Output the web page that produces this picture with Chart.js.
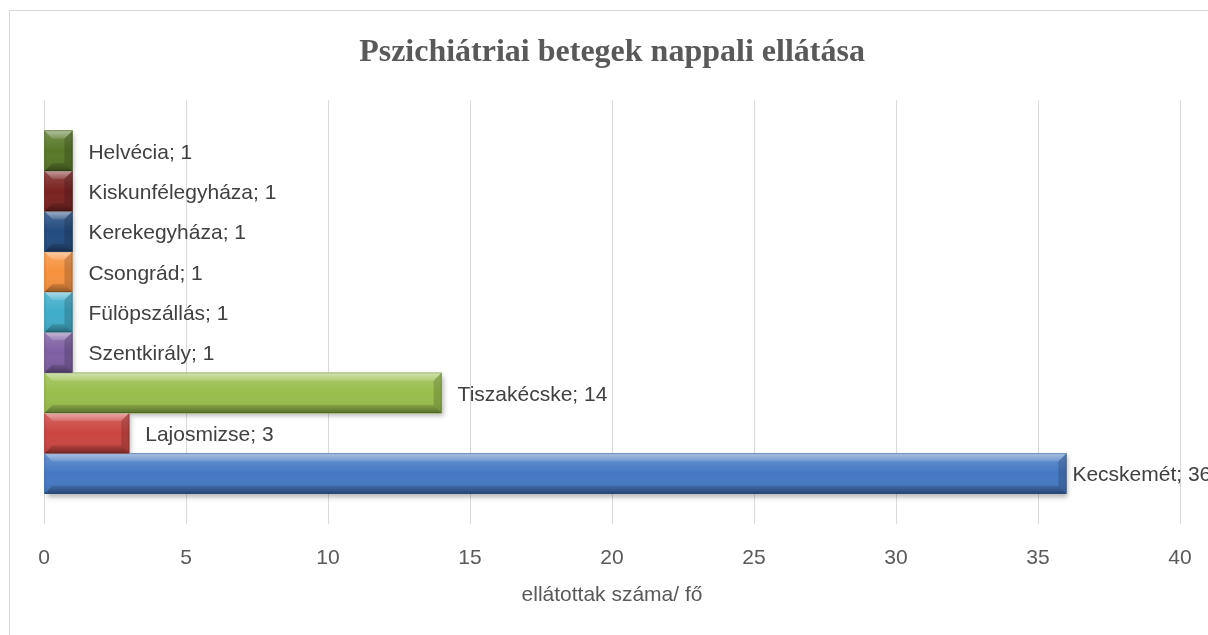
<!DOCTYPE html>
<html>

<head>
  <title>Pszichiátriai betegek nappali ellátása</title>
  <script src="https://cdn.jsdelivr.net/npm/chart.js"></script>
  <style>
    body { margin: 0; background: #fff; }
    #wrap { width: 1208px; height: 635px; }
  </style>
</head>

<body>
  <div id="wrap"><canvas id="myChart"></canvas></div>
  <script>
    // bottom -> top
    const categories = ['Kecskemét', 'Lajosmizse', 'Tiszakécske', 'Szentkirály', 'Fülöpszállás', 'Csongrád', 'Kerekegyháza', 'Kiskunfélegyháza', 'Helvécia'];
    const values = [36, 3, 14, 1, 1, 1, 1, 1, 1];
    const barColors = ['#4579C4', '#CC4541', '#99BE4C', '#7E5FA3', '#3FADCA', '#F7923E', '#234C80', '#7A2320', '#587828'];
    const xTicks = { min: 0, max: 40, step: 5 };
    const titleText = 'Pszichiátriai betegek nappali ellátása';
    const axisTitle = 'ellátottak száma/ fő';

    const labelFont = '21px "Liberation Sans"';

    // frame round the chart (only top and left edge are inside the picture)
    const framePlugin = {
      id: 'frame',
      beforeDraw(chart) {
        const ctx = chart.ctx;
        ctx.save();
        ctx.strokeStyle = '#d9d9d9';
        ctx.lineWidth = 1;
        ctx.strokeRect(9.5, 10.5, 1400, 800);
        ctx.restore();
      }
    };

    // soft shadow under bars + bevel look on top of them
    const bevelPlugin = {
      id: 'bevel',
      beforeDatasetsDraw(chart) {
        const ctx = chart.ctx;
        const meta = chart.getDatasetMeta(0);
        ctx.save();
        ctx.shadowColor = 'rgba(0,0,0,0.3)';
        ctx.shadowBlur = 5;
        ctx.shadowOffsetX = 2;
        ctx.shadowOffsetY = 3;
        meta.data.forEach((bar, i) => {
          const h = bar.height;
          ctx.fillStyle = barColors[i];
          ctx.fillRect(bar.base, bar.y - h / 2, bar.x - bar.base, h);
        });
        ctx.restore();
      },
      afterDatasetsDraw(chart) {
        const ctx = chart.ctx;
        const meta = chart.getDatasetMeta(0);
        const b = 8;
        ctx.save();
        meta.data.forEach((bar) => {
          const L = bar.base, R = bar.x, T = bar.y - bar.height / 2, B = bar.y + bar.height / 2;
          const poly = (pts, fill) => {
            ctx.beginPath();
            ctx.moveTo(pts[0][0], pts[0][1]);
            pts.slice(1).forEach(p => ctx.lineTo(p[0], p[1]));
            ctx.closePath();
            ctx.fillStyle = fill;
            ctx.fill();
          };
          const g = ctx.createLinearGradient(0, T, 0, B);
          g.addColorStop(0, 'rgba(255,255,255,0.18)');
          g.addColorStop(0.5, 'rgba(255,255,255,0.0)');
          g.addColorStop(1, 'rgba(0,0,0,0.10)');
          ctx.fillStyle = g;
          ctx.fillRect(L, T, R - L, B - T);
          const gt = ctx.createLinearGradient(0, T, 0, T + b);
          gt.addColorStop(0, 'rgba(255,255,255,0.45)');
          gt.addColorStop(1, 'rgba(255,255,255,0.12)');
          poly([[L, T], [R, T], [R - b, T + b], [L + b, T + b]], gt);
          const gb = ctx.createLinearGradient(0, B - b, 0, B);
          gb.addColorStop(0, 'rgba(0,0,0,0.12)');
          gb.addColorStop(1, 'rgba(0,0,0,0.35)');
          poly([[L, B], [R, B], [R - b, B - b], [L + b, B - b]], gb);
          poly([[R, T], [R - b, T + b], [R - b, B - b], [R, B]], 'rgba(0,0,0,0.16)');
          ctx.strokeStyle = 'rgba(0,0,0,0.12)';
          ctx.lineWidth = 1;
          ctx.strokeRect(L + 0.5, T + 0.5, R - L - 1, B - T - 1);
        });
        ctx.restore();
      }
    };

    // "Name; value" labels next to each bar
    const labelPlugin = {
      id: 'barLabels',
      afterDatasetsDraw(chart) {
        const ctx = chart.ctx;
        const meta = chart.getDatasetMeta(0);
        ctx.save();
        ctx.font = labelFont;
        ctx.fillStyle = '#404040';
        ctx.textBaseline = 'middle';
        meta.data.forEach((bar, i) => {
          const text = categories[i] + '; ' + values[i];
          let x = bar.x + 16;
          if (x + ctx.measureText(text).width > chart.width) x = bar.x + 6;
          ctx.fillText(text, x, bar.y + 2);
        });
        ctx.restore();
      }
    };

    const ctx = document.getElementById('myChart').getContext('2d');
    const chart = new Chart(ctx, {
      type: 'bar',
      data: {
        datasets: [{
          data: values.map((v, i) => ({ x: v, y: i })),
          backgroundColor: barColors,
          borderWidth: 0,
          barPercentage: 1,
          categoryPercentage: 1
        }]
      },
      plugins: [framePlugin, bevelPlugin, labelPlugin],
      options: {
        indexAxis: 'y',
        animation: false,
        responsive: true,
        maintainAspectRatio: false,
        layout: {
          padding: { left: 44, right: 28, top: 0, bottom: 0 }
        },
        plugins: {
          legend: { display: false },
          tooltip: { enabled: false },
          title: {
            display: true,
            text: titleText,
            color: '#595959',
            font: { family: '"Liberation Serif"', size: 32, weight: 'bold' },
            padding: { top: 34, bottom: 28 }
          }
        },
        scales: {
          y: {
            type: 'linear',
            min: -1.25,
            max: 9.25,
            offset: false,
            display: false,
            grid: { display: false }
          },
          x: {
            min: xTicks.min,
            max: xTicks.max,
            afterFit(scale) { scale.height = 111; },
            border: { display: false },
            grid: { color: '#d9d9d9', lineWidth: 1, drawTicks: true, tickLength: 22, tickColor: 'rgba(0,0,0,0)' },
            ticks: {
              stepSize: xTicks.step,
              padding: 0,
              maxRotation: 0,
              color: '#595959',
              font: { family: '"Liberation Sans"', size: 21 }
            },
            title: {
              display: true,
              text: axisTitle,
              color: '#595959',
              font: { family: '"Liberation Sans"', size: 21 },
              padding: { top: 0, bottom: 27 }
            }
          }
        }
      }
    });
  </script>
</body>

</html>
